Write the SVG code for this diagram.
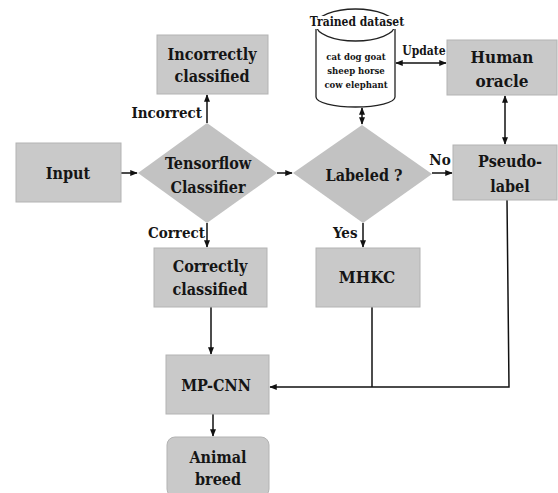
<svg xmlns="http://www.w3.org/2000/svg" width="558" height="493" viewBox="0 0 558 493">
<style>
.box{fill:#c9c9c9;stroke:#b3b3b3;stroke-width:1}
.dia{fill:#c2c2c2;stroke:none}
text{font-family:'DejaVu Serif Condensed','DejaVu Serif','Liberation Serif',serif;font-weight:bold;fill:#151515;text-anchor:middle}
.n{font-size:16px}
.l{font-size:15px}
.c{stroke:#111;stroke-width:1.5;fill:none}
</style>
<defs>
<marker id="ah" viewBox="0 0 10 10" refX="9" refY="5" markerWidth="5" markerHeight="5" orient="auto-start-reverse"><path d="M0,1 L10,5 L0,9 z" fill="#111"/></marker>
</defs>
<rect width="558" height="493" fill="#fff"/>
<g id="connectors">
<line class="c" x1="121" y1="173" x2="137" y2="173" marker-end="url(#ah)"/>
<line class="c" x1="207" y1="123" x2="207" y2="95" marker-end="url(#ah)"/>
<line class="c" x1="207" y1="223" x2="207" y2="247" marker-end="url(#ah)"/>
<line class="c" x1="277" y1="173" x2="292" y2="173" marker-end="url(#ah)"/>
<line class="c" x1="363" y1="223" x2="363" y2="247" marker-end="url(#ah)"/>
<line class="c" x1="432" y1="173" x2="452" y2="173" marker-end="url(#ah)"/>
<line class="c" x1="362" y1="108" x2="362" y2="124" marker-start="url(#ah)" marker-end="url(#ah)"/>
<line class="c" x1="396" y1="63" x2="446" y2="63" marker-start="url(#ah)" marker-end="url(#ah)"/>
<line class="c" x1="505" y1="96" x2="505" y2="144" marker-start="url(#ah)" marker-end="url(#ah)"/>
<line class="c" x1="211" y1="307" x2="211" y2="354" marker-end="url(#ah)"/>
<line class="c" x1="372" y1="307" x2="372" y2="387"/>
<polyline class="c" points="507,200 509,387 270,387" marker-end="url(#ah)"/>
<line class="c" x1="213" y1="414" x2="213" y2="436" marker-end="url(#ah)"/>
<text class="l" x="202" y="118" style="text-anchor:end">Incorrect</text>
<text class="l" x="205" y="238" style="text-anchor:end">Correct</text>
<text class="l" x="333" y="238" style="text-anchor:start">Yes</text>
<text class="l" x="440" y="165">No</text>
<text x="424" y="55" style="font-size:12px">Update</text>
</g>
<g id="incorrectly">
<rect class="box" x="157" y="35" width="111" height="59"/>
<text class="n" x="212" y="60">Incorrectly</text>
<text class="n" x="212" y="82">classified</text>
</g>
<g id="input">
<rect class="box" x="16" y="143" width="105" height="59"/>
<text class="n" x="68" y="179">Input</text>
</g>
<g id="tensorflow">
<polygon class="dia" points="207,123 277,173 207,223 138,173"/>
<text class="n" x="208" y="169">Tensorflow</text>
<text class="n" x="208" y="193">Classifier</text>
</g>
<g id="labeled">
<polygon class="dia" points="362,125 432,174 363,223 293,173"/>
<text class="n" x="364" y="181">Labeled ?</text>
</g>
<g id="pseudo">
<rect class="box" x="453" y="145" width="104" height="55"/>
<text class="n" x="510" y="167">Pseudo-</text>
<text class="n" x="510" y="192">label</text>
</g>
<g id="human">
<rect class="box" x="447" y="40" width="110" height="55"/>
<text x="502" y="63" style="font-size:17px">Human</text>
<text x="502" y="87" style="font-size:17px">oracle</text>
</g>
<g id="dataset">
<path d="M316,25 L316,97 A39.5,10 0 0 0 395,97 L395,25" fill="#fff" stroke="#222" stroke-width="1.3"/>
<ellipse cx="355.5" cy="25" rx="39.5" ry="16" fill="#fff" stroke="#222" stroke-width="1.3"/>
<rect x="306" y="16" width="100" height="13" fill="#fff"/>
<text x="357" y="26" style="font-size:12px">Trained dataset</text>
<text x="356" y="60" style="font-size:9.5px">cat dog goat</text>
<text x="356" y="74" style="font-size:9.5px">sheep horse</text>
<text x="356" y="88" style="font-size:9.5px">cow elephant</text>
</g>
<g id="correctly">
<rect class="box" x="154" y="248" width="113" height="59"/>
<text class="n" x="210" y="272">Correctly</text>
<text class="n" x="210" y="295">classified</text>
</g>
<g id="mhkc">
<rect class="box" x="316" y="248" width="104" height="59"/>
<text x="367" y="283" style="font-size:17px">MHKC</text>
</g>
<g id="mpcnn">
<rect class="box" x="166" y="355" width="103" height="59"/>
<text class="n" x="216" y="391">MP-CNN</text>
</g>
<g id="animal">
<rect class="box" x="167" y="437" width="102" height="60" rx="8"/>
<text class="n" x="218" y="463">Animal</text>
<text class="n" x="218" y="485">breed</text>
</g>
</svg>
